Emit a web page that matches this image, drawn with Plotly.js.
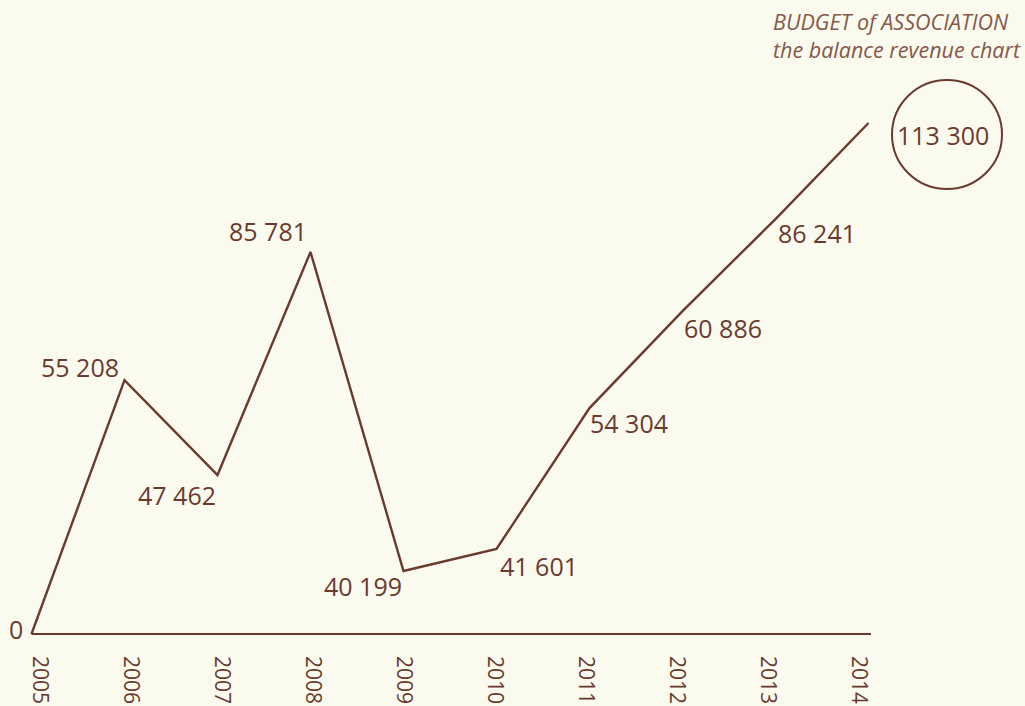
<!DOCTYPE html>
<html>
<head>
<meta charset="utf-8">
<script src="https://cdn.plot.ly/plotly-3.0.1.min.js"></script>
<style>
html,body{margin:0;padding:0;background:#fafaee;}
#chart{width:1025px;height:706px;}
</style>
</head>
<body>
<div id="chart"></div>
<script>
// ---- data ----
const years = [2005, 2006, 2007, 2008, 2009, 2010, 2011, 2012, 2013, 2014];
// values as drawn by the line (read from its vertices)
const lineValues = [0, 56300, 35250, 84700, 13970, 18850, 50100, 71600, 92000, 113300];
// value labels as printed on the chart
const valueLabels = ["0", "55 208", "47 462", "85 781", "40 199", "41 601", "54 304", "60 886", "86 241", "113 300"];
const tickLabels = ["2005", "2006", "2007", "2008", "2009", "2010", "2011", "2012", "2013", "2014"];
const titleLines = ["BUDGET of ASSOCIATION", "the balance revenue chart"];

// ---- styling / placement ----
const brown = "#6b3a2e";
const titleBrown = "#85584a";
const bg = "#fafaee";
const font = "Open Sans, Lato, sans-serif";
const labelPlacement = [
  {xanchor: "right", xshift: -7, yshift: 5},
  {xanchor: "right", xshift: -4, yshift: 13},
  {xanchor: "right", xshift: 0, yshift: -20},
  {xanchor: "right", xshift: -2, yshift: 21},
  {xanchor: "right", xshift: 0, yshift: -15},
  {xanchor: "left", xshift: 1, yshift: -17},
  {xanchor: "left", xshift: -2, yshift: -15},
  {xanchor: "left", xshift: -1, yshift: -17},
  {xanchor: "left", xshift: 0, yshift: -14},
  {xanchor: "left", xshift: 26, yshift: -12}
];

const L = 28, R = 145, T = 93, B = 58;
const W = 1025 - L - R;
const H = 706 - T - B;
const pxPerYear = 93;
const px2paperX = (px) => (px - L) / W;
const px2paperY = (py) => (706 - B - py) / H;

const traces = [
  {
    x: years, y: lineValues, type: "scatter", mode: "lines",
    line: {color: brown, width: 2.4}, hoverinfo: "skip", xaxis: "x", yaxis: "y"
  },
  {
    x: years, y: years.map(() => 0), type: "scatter", mode: "markers",
    marker: {opacity: 0, size: 1}, hoverinfo: "skip", xaxis: "x2", yaxis: "y", showlegend: false
  }
];

const annotations = years.map((yr, i) => ({
  x: yr, y: lineValues[i], xref: "x", yref: "y",
  text: valueLabels[i], showarrow: false,
  xanchor: labelPlacement[i].xanchor, yanchor: "middle",
  xshift: labelPlacement[i].xshift, yshift: labelPlacement[i].yshift,
  font: {family: font, size: 25, color: brown}
}));
annotations.push({
  xref: "paper", yref: "paper",
  x: px2paperX(771), y: px2paperY(5),
  xanchor: "left", yanchor: "top", align: "left", showarrow: false,
  text: "<i>" + titleLines.join("<br>") + "</i>",
  font: {family: font, size: 21.5, color: titleBrown}
});

const layout = {
  width: 1025, height: 706,
  paper_bgcolor: bg, plot_bgcolor: bg,
  margin: {l: L, r: R, t: T, b: B},
  showlegend: false,
  xaxis: {
    range: [years[0] - 3.5 / pxPerYear, years[years.length - 1] + 11.5 / pxPerYear],
    showgrid: false, zeroline: false, showline: false, showticklabels: false, ticks: ""
  },
  xaxis2: {
    overlaying: "x", anchor: "y", side: "bottom",
    range: [2005 - 12 / 91, 2014 + (L + W - 859) / 91],
    tickvals: years, ticktext: tickLabels, tickangle: 90,
    ticklabelstandoff: 7,
    tickfont: {family: font, size: 21, color: brown},
    showgrid: false, zeroline: false, showline: false, ticks: ""
  },
  yaxis: {
    range: [-3100, 119950],
    showgrid: false, zeroline: false, showline: false, showticklabels: false, ticks: ""
  },
  shapes: [
    {type: "line", xref: "x", yref: "y", x0: years[0], x1: years[years.length - 1] + 2.5 / pxPerYear, y0: 0, y1: 0,
     line: {color: brown, width: 2}, layer: "below"},
    {type: "circle", xref: "paper", yref: "paper",
     x0: px2paperX(892), x1: px2paperX(1002), y0: px2paperY(189), y1: px2paperY(80),
     line: {color: brown, width: 2}}
  ],
  annotations: annotations
};

Plotly.newPlot("chart", traces, layout, {displayModeBar: false, staticPlot: true});
</script>
</body>
</html>
